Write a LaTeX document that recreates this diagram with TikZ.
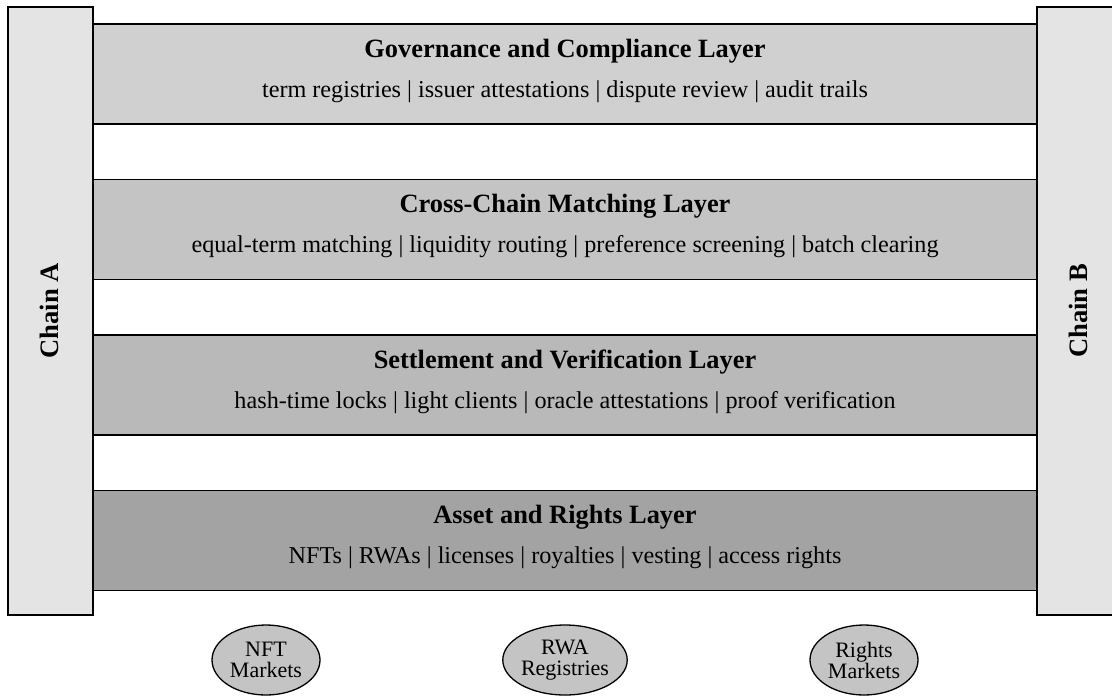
\documentclass[tikz,border=0pt]{standalone}
\usepackage{fontspec}
\setmainfont{Liberation Serif}
\usetikzlibrary{shapes.geometric,positioning}
\tikzset{layer/.style={draw, line width=0.65pt, minimum width=472pt, minimum height=50pt, inner sep=0pt},
layertitle/.style={anchor=base, inner sep=0pt, font=\fontsize{13.2}{14}\selectfont\bfseries},
layeritems/.style={anchor=base, inner sep=0pt, font=\fontsize{12.1}{14}\selectfont},
chain/.style={draw, line width=0.65pt, fill=gray!21, minimum width=42.5pt, minimum height=304pt, inner sep=0pt},
chainlabel/.style={rotate=90, font=\fontsize{13.3}{14}\selectfont\bfseries},
market/.style={ellipse, draw, line width=0.65pt, fill=gray!46, minimum width=54pt, minimum height=35pt, inner sep=0pt, align=center, font=\fontsize{11}{10.5}\selectfont}}

\begin{document}
\begin{tikzpicture}[x=0.5pt, y=-0.5pt]
        \useasboundingbox (0,0) rectangle (1112,696);
        \clip (0,0) rectangle (1112,696);
        % the two chains on either side
        \node[chain] (chainA) at (50.5, 311) {};
        \node[chain] (chainB) at (1079.5, 311) {};
        \node[chainlabel] (labelA) at (49, 311) {Chain A};
        \node[chainlabel] (labelB) at (1078, 311) {Chain B};

        % stacked layers, top to bottom
        \node[layer, fill=gray!37] (gov) at (565, 74) {};
        \node[layertitle] (govT) at (565, 57) {Governance and Compliance Layer};
        \node[layeritems] (govI) at (565, 97) {term registries | issuer attestations | dispute review | audit trails};

        \node[layer, fill=gray!46] (match) at (565, 229.5) {};
        \node[layertitle] (matchT) at (565, 212.5) {Cross-Chain Matching Layer};
        \node[layeritems] (matchI) at (565, 252.5) {equal-term matching | liquidity routing | preference screening | batch clearing};

        \node[layer, fill=gray!55] (settle) at (565, 385) {};
        \node[layertitle] (settleT) at (565, 368) {Settlement and Verification Layer};
        \node[layeritems] (settleI) at (565, 408) {hash-time locks | light clients | oracle attestations | proof verification};

        \node[layer, fill=gray!72] (asset) at (565, 540.5) {};
        \node[layertitle] (assetT) at (565, 523.5) {Asset and Rights Layer};
        \node[layeritems] (assetI) at (565, 563.5) {NFTs | RWAs | licenses | royalties | vesting | access rights};

        % markets below
        \node[market] (nft) at (266, 660) {NFT\\Markets};
        \node[market] (rwa) at (565, 660) {RWA\\Registries};
        \node[market] (rights) at (864, 660) {Rights\\Markets};
    \end{tikzpicture}
\end{document}
